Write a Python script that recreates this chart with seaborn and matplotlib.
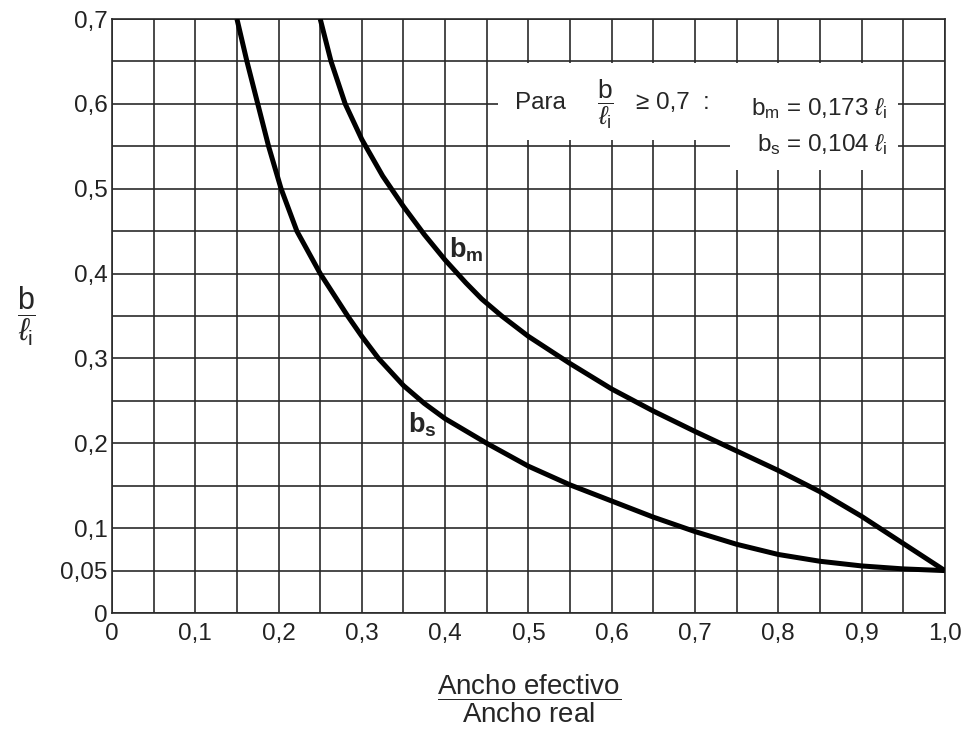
import numpy as np
import pandas as pd
import matplotlib
matplotlib.use('Agg')
import matplotlib.pyplot as plt
from matplotlib.patches import Rectangle
import seaborn as sns

# curve readings (ancho efectivo / ancho real  vs  b / l_i)
bm_x = [0.25, 0.263, 0.28, 0.30, 0.325, 0.35, 0.375, 0.40, 0.425, 0.444, 0.468,
        0.50, 0.55, 0.60, 0.65, 0.70, 0.75, 0.80, 0.85, 0.90, 0.95, 1.0]
bm_y = [0.70, 0.65, 0.60, 0.558, 0.515, 0.479, 0.446, 0.416, 0.389, 0.370, 0.350,
        0.326, 0.294, 0.264, 0.238, 0.214, 0.191, 0.168, 0.143, 0.114, 0.082, 0.05]

bs_x = [0.15, 0.162, 0.175, 0.188, 0.203, 0.222, 0.25, 0.283, 0.30, 0.32, 0.35,
        0.375, 0.40, 0.45, 0.50, 0.55, 0.60, 0.65, 0.70, 0.75, 0.80, 0.85,
        0.90, 0.95, 1.0]
bs_y = [0.70, 0.65, 0.60, 0.55, 0.50, 0.45, 0.40, 0.35, 0.326, 0.30, 0.268,
        0.247, 0.229, 0.20, 0.173, 0.151, 0.132, 0.113, 0.096, 0.081, 0.069, 0.061,
        0.0555, 0.052, 0.05]

x_ticks = [0, 0.1, 0.2, 0.3, 0.4, 0.5, 0.6, 0.7, 0.8, 0.9, 1.0]
x_labels = ['0', '0,1', '0,2', '0,3', '0,4', '0,5', '0,6', '0,7', '0,8', '0,9', '1,0']
y_ticks = [0, 0.05, 0.1, 0.2, 0.3, 0.4, 0.5, 0.6, 0.7]
y_labels = ['0', '0,05', '0,1', '0,2', '0,3', '0,4', '0,5', '0,6', '0,7']

df = pd.concat([
    pd.DataFrame({'x': bm_x, 'y': bm_y, 'curva': 'bm'}),
    pd.DataFrame({'x': bs_x, 'y': bs_y, 'curva': 'bs'}),
], ignore_index=True)

sns.set_style('white')
plt.rcParams['font.family'] = ['Liberation Sans', 'DejaVu Sans']
plt.rcParams['mathtext.fontset'] = 'custom'
plt.rcParams['mathtext.rm'] = 'Liberation Sans'
plt.rcParams['mathtext.it'] = 'Liberation Sans:italic'
plt.rcParams['mathtext.bf'] = 'Liberation Sans:bold'

grid_col = '#2a2a2a'

fig = plt.figure(figsize=(9.7, 7.31), dpi=100)
ax = fig.add_axes([0.1155, 0.1614, 0.8585, 0.8126])

sns.lineplot(data=df, x='x', y='y', units='curva', estimator=None, sort=False,
             color='black', linewidth=3.6, ax=ax, zorder=4,
             solid_joinstyle='round', solid_capstyle='butt')

ax.set_xlim(0, 1.0)
ax.set_ylim(0, 0.7)
ax.set_xticks(x_ticks)
ax.set_xticklabels(x_labels, fontsize=17.5)
ax.set_yticks(y_ticks)
ax.set_yticklabels(y_labels, fontsize=17.5)
ax.set_xticks(np.arange(0, 1.0001, 0.05), minor=True)
ax.set_yticks(np.arange(0, 0.7001, 0.05), minor=True)
ax.tick_params(which='both', length=0, colors='#222222')
ax.tick_params(axis='x', pad=7)
ax.tick_params(axis='y', pad=3)
ax.grid(which='both', color=grid_col, linewidth=1.2)
ax.set_axisbelow(True)
for s in ax.spines.values():
    s.set_color(grid_col)
    s.set_linewidth(1.2)
ax.set_xlabel('')
ax.set_ylabel('')

# white box behind the note
ax.add_patch(Rectangle((0.463, 0.558), 0.742 - 0.463, 0.648 - 0.558,
                       facecolor='white', edgecolor='none', zorder=2))
ax.add_patch(Rectangle((0.742, 0.522), 0.9436 - 0.742, 0.648 - 0.522,
                       facecolor='white', edgecolor='none', zorder=2))

fs = 17.5
ax.text(0.515, 0.601, 'Para', fontsize=fs, ha='center', va='center', zorder=5)
ax.text(0.592, 0.600, r'$\dfrac{\mathrm{b}}{\ell_\mathrm{i}}$', fontsize=19,
        ha='center', va='center', zorder=5)
ax.text(0.662, 0.601, '≥ 0,7', fontsize=fs, ha='center', va='center', zorder=5)
ax.text(0.714, 0.601, ':', fontsize=fs, ha='center', va='center', zorder=5)
ax.text(0.931, 0.595, r'b$_\mathrm{m}$ = 0,173 $\ell_\mathrm{i}$', fontsize=fs,
        ha='right', va='center', zorder=5)
ax.text(0.931, 0.552, r'b$_\mathrm{s}$ = 0,104 $\ell_\mathrm{i}$', fontsize=fs,
        ha='right', va='center', zorder=5)

# curve labels
ax.text(0.425, 0.428, r'$\mathbf{b_m}$', fontsize=19.5, ha='center', va='center', zorder=5)
ax.text(0.373, 0.222, r'$\mathbf{b_s}$', fontsize=19.5, ha='center', va='center', zorder=5)

# axis labels as fractions
fig.text(0.027, 0.567, r'$\dfrac{\mathrm{b}}{\ell_\mathrm{i}}$', fontsize=22,
         ha='center', va='center')
fig.text(0.545, 0.044, r'$\dfrac{\mathrm{Ancho\ efectivo}}{\mathrm{Ancho\ real}}$',
         fontsize=20, ha='center', va='center')

fig.savefig('out.png', dpi=100, facecolor='white')
